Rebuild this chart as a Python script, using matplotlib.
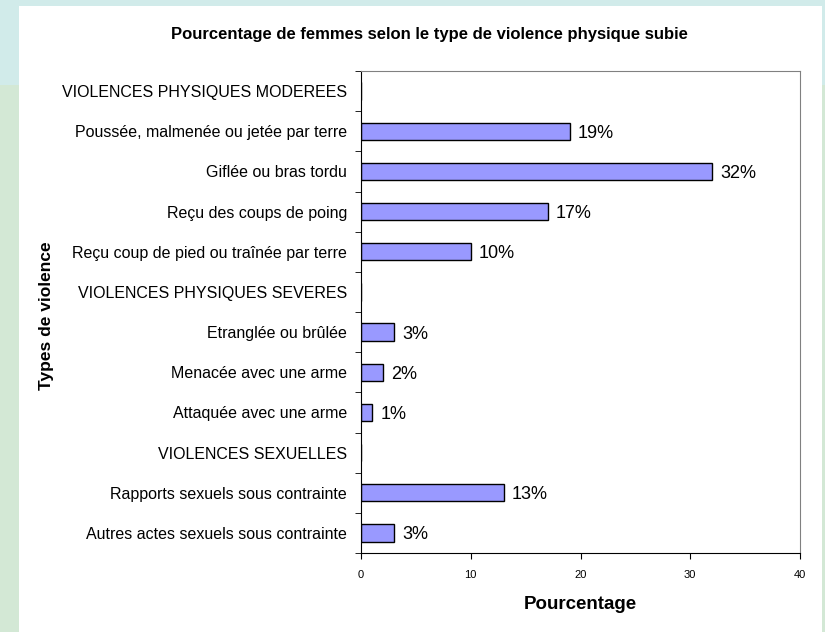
import numpy as np
import matplotlib.pyplot as plt
from matplotlib.patches import Rectangle

plt.rcParams['font.family'] = ['Liberation Sans', 'DejaVu Sans']

# types de violence, du haut vers le bas
categories = [
    "VIOLENCES PHYSIQUES MODEREES",
    "Poussée, malmenée ou jetée par terre",
    "Giflée ou bras tordu",
    "Reçu des coups de poing",
    "Reçu coup de pied ou traînée par terre",
    "VIOLENCES PHYSIQUES SEVERES",
    "Etranglée ou brûlée",
    "Menacée avec une arme",
    "Attaquée avec une arme",
    "VIOLENCES SEXUELLES",
    "Rapports sexuels sous contrainte",
    "Autres actes sexuels sous contrainte",
]
values = [np.nan, 19, 32, 17, 10, np.nan, 3, 2, 1, np.nan, 13, 3]
xticks = [0, 10, 20, 30, 40]

fig = plt.figure(figsize=(8.25, 6.32), dpi=100)
fig.patch.set_facecolor('#d3e8d5')
# fond bleuté en haut, cadre blanc
fig.patches.append(Rectangle((0, 1 - 85 / 632), 1, 85 / 632, transform=fig.transFigure,
                             facecolor='#d1ebea', edgecolor='none', zorder=-2))
fig.patches.append(Rectangle((19 / 825, 0), 803 / 825, 626 / 632, transform=fig.transFigure,
                             facecolor='white', edgecolor='none', zorder=-1))

ax = fig.add_axes([361 / 825, 1 - 553 / 632, 439 / 825, 482 / 632])
ax.set_facecolor('white')

y = np.arange(len(categories))
vals = np.array(values, dtype=float)
ax.barh(y, np.nan_to_num(vals), height=0.43, color='#9999ff', edgecolor='black', linewidth=1)

for yi, v in zip(y, vals):
    if not np.isnan(v):
        ax.text(v + 0.75, yi + 0.05, f"{int(v)}%", va='center', ha='left', fontsize=13)

ax.set_ylim(len(categories) - 0.5, -0.5)
ax.set_xlim(0, 40)
ax.set_yticks(y)
ax.set_yticklabels(categories, fontsize=11.5)
ax.set_yticks(np.arange(-0.5, len(categories), 1), minor=True)
ax.tick_params(axis='y', which='major', length=0, pad=10)
ax.tick_params(axis='y', which='minor', length=4, direction='out')
ax.set_xticks(xticks)
ax.tick_params(axis='x', labelsize=8, length=4, pad=8)

for s in ['top', 'right']:
    ax.spines[s].set_color('#808080')
for s in ['left', 'bottom']:
    ax.spines[s].set_color('black')

ax.set_xlabel("Pourcentage", fontsize=13.5, fontweight='bold', labelpad=12)
fig.text(47 / 825, 1 - 316 / 632, "Types de violence", rotation=90, ha='center', va='center',
         fontsize=12.5, fontweight='bold')
fig.text(429 / 825, 1 - 35 / 632, "Pourcentage de femmes selon le type de violence physique subie",
         ha='center', va='center', fontsize=12, fontweight='bold')

fig.savefig('out.png', dpi=100, facecolor=fig.get_facecolor())
